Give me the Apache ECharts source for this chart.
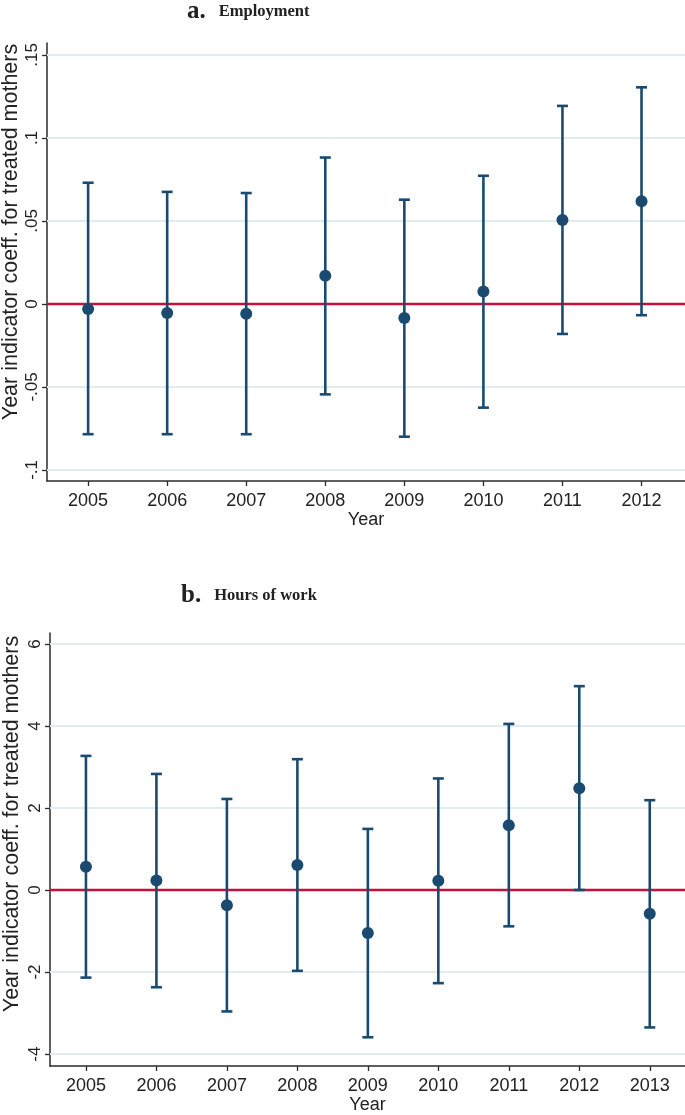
<!DOCTYPE html>
<html>
<head>
<meta charset="utf-8">
<script src="https://cdn.jsdelivr.net/npm/echarts@6/dist/echarts.min.js"></script>
<style>html,body{margin:0;padding:0;background:#fff;}#c{width:685px;height:1115px;}</style>
</head>
<body>
<div id="c"></div>
<script>
// Panel a: Employment
const yearsA = [2005, 2006, 2007, 2008, 2009, 2010, 2011, 2012];
const coefA  = [-0.003, -0.0055, -0.006, 0.017, -0.0085, 0.0075, 0.0506, 0.0619];
const lowA   = [-0.0785, -0.0785, -0.0785, -0.0545, -0.0800, -0.0625, -0.0181, -0.0068];
const highA  = [0.0730, 0.0675, 0.0668, 0.0882, 0.0628, 0.0772, 0.1193, 0.1305];
const ticksA = [-0.1, -0.05, 0, 0.05, 0.1, 0.15];
const tickLabelsA = ['-.1', '-.05', '0', '.05', '.1', '.15'];

// Panel b: Hours of work
const yearsB = [2005, 2006, 2007, 2008, 2009, 2010, 2011, 2012, 2013];
const coefB  = [0.57, 0.23, -0.37, 0.61, -1.05, 0.225, 1.58, 2.48, -0.58];
const lowB   = [-2.135, -2.37, -2.96, -1.97, -3.59, -2.27, -0.885, 0.0, -3.35];
const highB  = [3.27, 2.83, 2.22, 3.19, 1.49, 2.72, 4.05, 4.97, 2.19];
const ticksB = [-4, -2, 0, 2, 4, 6];
const tickLabelsB = ['-4', '-2', '0', '2', '4', '6'];

const NAVY = '#1a4a70';
const GRIDC = '#e2ecef';
const REDC = '#c8103e';
const AXC = '#2b2b2b';
const FONT = 'Liberation Sans, Arial, sans-serif';

function errBars(years, low, high, idx) {
  return {
    type: 'custom', xAxisIndex: idx, yAxisIndex: idx, z: 5,
    data: years.map((y, i) => [y, low[i], high[i]]),
    renderItem: function (params, api) {
      const x = api.value(0);
      const pL = api.coord([x, api.value(1)]);
      const pH = api.coord([x, api.value(2)]);
      const cw = 5.5;
      const st = { stroke: NAVY, lineWidth: 2.6 };
      return {
        type: 'group',
        children: [
          { type: 'line', shape: { x1: pL[0], y1: pL[1], x2: pH[0], y2: pH[1] }, style: st },
          { type: 'line', shape: { x1: pH[0] - cw, y1: pH[1], x2: pH[0] + cw, y2: pH[1] }, style: st },
          { type: 'line', shape: { x1: pL[0] - cw, y1: pL[1], x2: pL[0] + cw, y2: pL[1] }, style: st }
        ]
      };
    }
  };
}

function refLines(ticks, idx) {
  return {
    type: 'line', xAxisIndex: idx, yAxisIndex: idx, data: [], silent: true, z: 1,
    markLine: {
      silent: true, symbol: 'none', label: { show: false }, animation: false,
      data: ticks.map(v => ({ yAxis: v, lineStyle: v === 0 ? { color: REDC, width: 2.4, type: 'solid' } : { color: GRIDC, width: 2, type: 'solid' } }))
    }
  };
}

function xAxisDef(idx, years, min, max) {
  return {
    type: 'value', gridIndex: idx, min: min, max: max,
    name: 'Year', nameLocation: 'middle', nameGap: 30,
    nameTextStyle: { fontFamily: FONT, fontSize: 18, color: '#222' },
    axisLine: { show: true, onZero: false, lineStyle: { color: AXC, width: 1.5 } },
    axisTick: { show: true, length: 5, customValues: years, lineStyle: { color: AXC, width: 1.3 } },
    axisLabel: { customValues: years, margin: 11, fontFamily: FONT, fontSize: 18, color: '#222', formatter: v => String(v) },
    splitLine: { show: false }
  };
}

function yAxisDef(idx, ticks, labels, min, max) {
  return {
    type: 'value', gridIndex: idx, min: min, max: max,
    axisLine: { show: true, onZero: false, lineStyle: { color: AXC, width: 1.5 } },
    axisTick: { show: true, length: 5, customValues: ticks, lineStyle: { color: AXC, width: 1.3 } },
    axisLabel: {
      customValues: ticks, rotate: 90, margin: 6, fontFamily: FONT, fontSize: 17, color: '#222',
      formatter: v => { const i = ticks.findIndex(t => Math.abs(t - v) < 1e-9); return i >= 0 ? labels[i] : ''; }
    },
    splitLine: { show: false }
  };
}

const richT = {
  a: { fontFamily: 'Liberation Serif', fontWeight: 'bold', fontSize: 25, color: '#222' },
  g: { width: 13 },
  b: { fontFamily: 'Liberation Serif', fontWeight: 'bold', fontSize: 16.5, color: '#222' }
};

const chart = echarts.init(document.getElementById('c'), null, { renderer: 'canvas' });
chart.setOption({
  animation: false,
  backgroundColor: '#fff',
  title: [
    { text: '{a|a.}{g|}{b|Employment}', left: 182, top: -6, textStyle: { rich: richT } },
    { text: '{a|b.}{g|}{b|Hours of work}', left: 176, top: 578, textStyle: { rich: richT } }
  ],
  graphic: [
    { type: 'text', x: 11, y: 232, rotation: Math.PI / 2,
      style: { text: 'Year indicator coeff. for treated mothers', fontFamily: FONT, fontSize: 21.5, fill: '#222', align: 'center', verticalAlign: 'middle' } },
    { type: 'text', x: 12, y: 824, rotation: Math.PI / 2,
      style: { text: 'Year indicator coeff. for treated mothers', fontFamily: FONT, fontSize: 21.5, fill: '#222', align: 'center', verticalAlign: 'middle' } }
  ],
  grid: [
    { left: 47, top: 43, width: 638, height: 438 },
    { left: 50, top: 633, width: 637, height: 436 }
  ],
  xAxis: [
    xAxisDef(0, yearsA, 2004.48, 2012.55),
    xAxisDef(1, yearsB, 2004.49, 2013.5)
  ],
  yAxis: [
    yAxisDef(0, ticksA, tickLabelsA, -0.1067, 0.1572),
    yAxisDef(1, ticksB, tickLabelsB, -4.29, 6.266)
  ],
  series: [
    refLines(ticksA, 0),
    errBars(yearsA, lowA, highA, 0),
    { type: 'scatter', xAxisIndex: 0, yAxisIndex: 0, z: 6, symbol: 'circle', symbolSize: 12,
      itemStyle: { color: NAVY, opacity: 1 }, data: yearsA.map((y, i) => [y, coefA[i]]) },
    refLines(ticksB, 1),
    errBars(yearsB, lowB, highB, 1),
    { type: 'scatter', xAxisIndex: 1, yAxisIndex: 1, z: 6, symbol: 'circle', symbolSize: 12,
      itemStyle: { color: NAVY, opacity: 1 }, data: yearsB.map((y, i) => [y, coefB[i]]) }
  ]
});
</script>
</body>
</html>
